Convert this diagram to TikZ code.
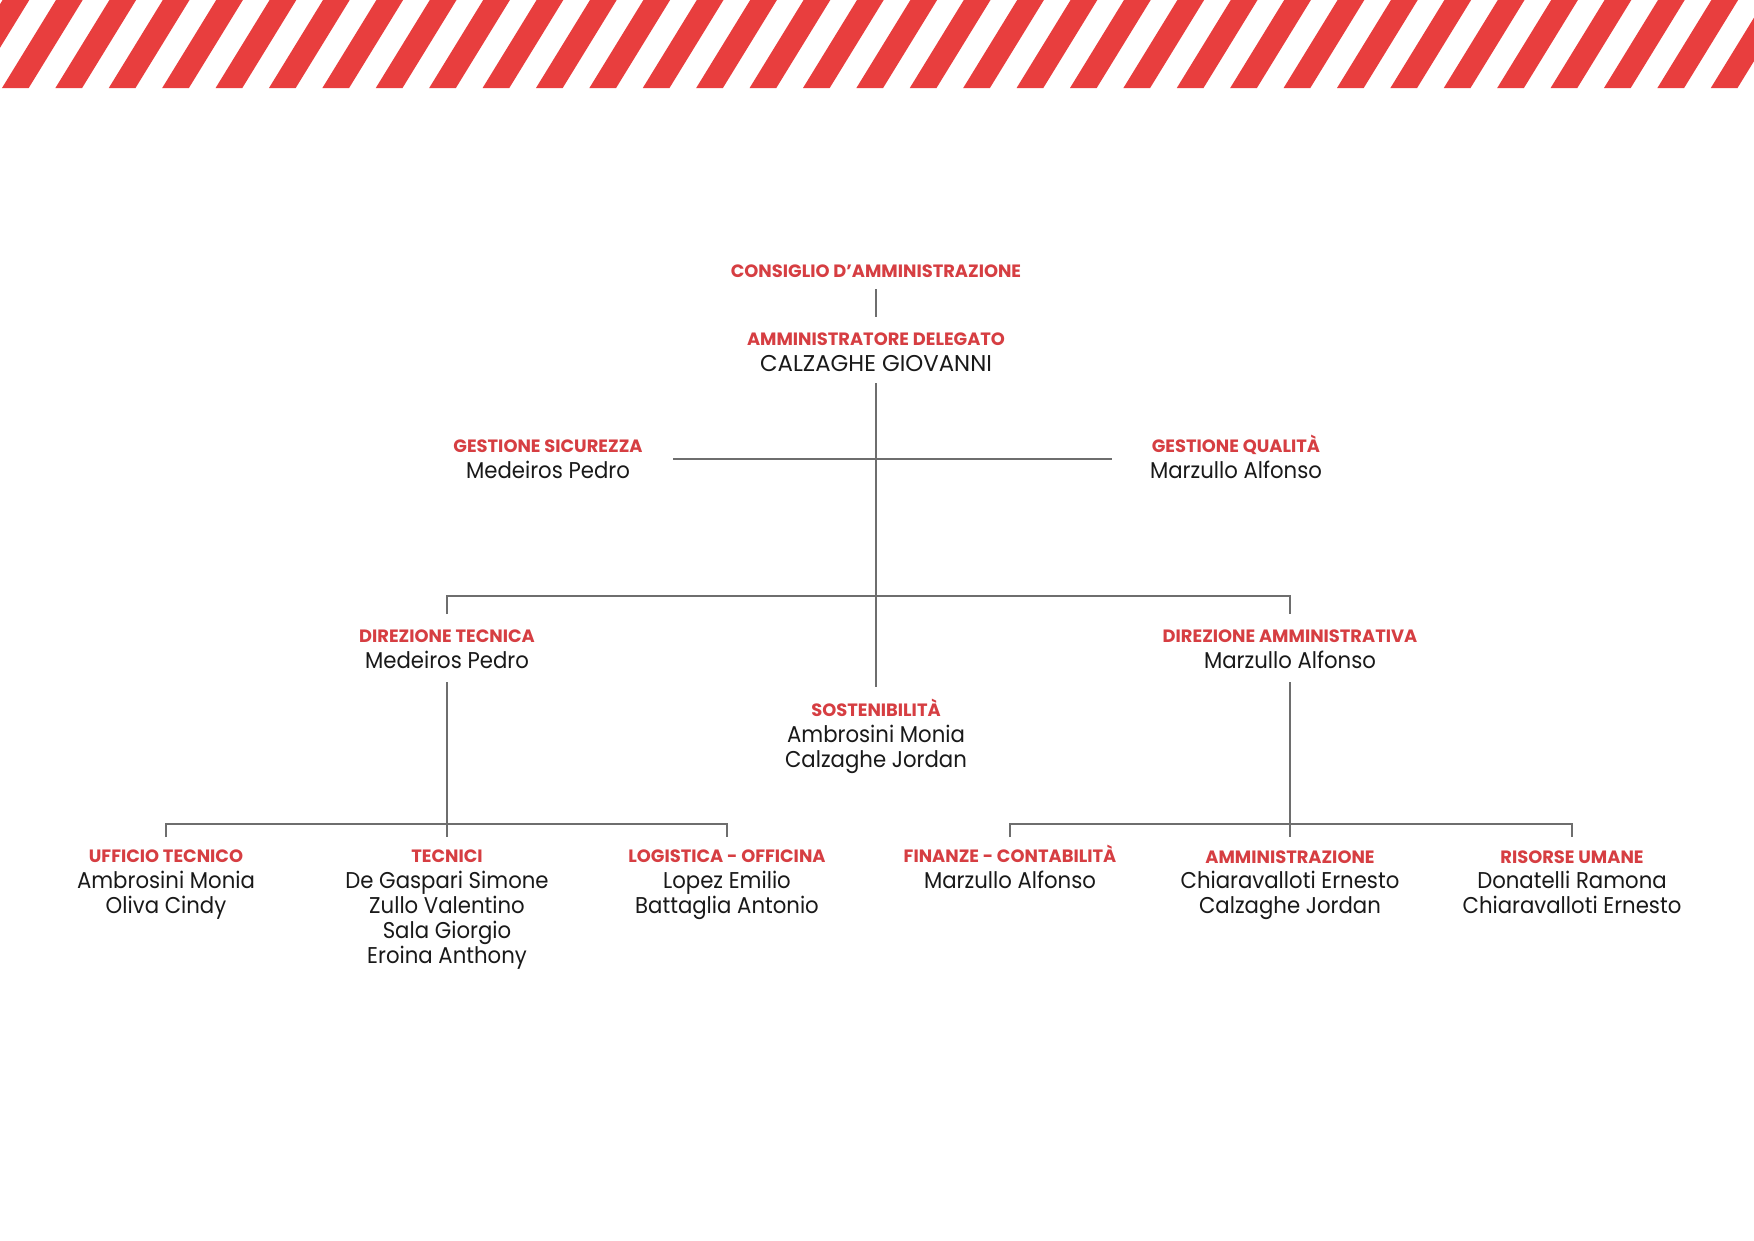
\documentclass[tikz,border=0pt]{standalone}
\usepackage{fontspec}
\setmainfont{Poppins}
\newfontfamily\namefont{Poppins}[FakeStretch=0.93]
\newfontfamily\capsnamefont{Poppins}
\definecolor{stripered}{RGB}{232,62,62}
\definecolor{headred}{RGB}{214,62,66}
\definecolor{linegray}{RGB}{110,110,110}
\definecolor{nametext}{RGB}{25,25,25}
\newcommand\orgunit[5]{%
  \node[head] (#1) at (#2,#3) {#4};
  \foreach \n [count=\i] in {#5}{\node[person] (#1-\i) at (#2,{#3+25.5+(\i-1)*25}) {\n};}
}
\begin{document}
\begin{tikzpicture}[x=0.16933mm,y=-0.16933mm,
  head/.style={anchor=base,inner sep=0,text=headred,font=\fontsize{8.6}{10}\selectfont\bfseries},
  person/.style={anchor=base,inner sep=0,text=nametext,font=\fontsize{11}{13}\selectfont\namefont},
  capsperson/.style={anchor=base,inner sep=0,text=nametext,font=\fontsize{11}{13}\selectfont\capsnamefont},
  link/.style={draw=linegray,line width=0.6pt}]
\useasboundingbox (0,0) rectangle (1754,1240);
\fill[white] (0,0) rectangle (1754,1240);
\begin{scope}
\clip (0,0) rectangle (1754,88);
\foreach \k in {-2,...,33}{
  \fill[stripered] ({2+\k*53.4},88) -- ({2+\k*53.4+26.7},88) -- ({2+\k*53.4+26.7+54},0) -- ({2+\k*53.4+54},0) -- cycle;
}
\end{scope}

\node[head] (cda) at (876,277) {CONSIGLIO D’AMMINISTRAZIONE};
\node[head] (ad) at (876,345.5) {AMMINISTRATORE DELEGATO};
\node[capsperson] (ad-1) at (876,371) {CALZAGHE GIOVANNI};
\orgunit{gs}{548}{452.5}{GESTIONE SICUREZZA}{Medeiros Pedro}
\orgunit{gq}{1236}{452.5}{GESTIONE QUALITÀ}{Marzullo Alfonso}
\orgunit{dt}{447}{642.5}{DIREZIONE TECNICA}{Medeiros Pedro}
\orgunit{da}{1290}{642.5}{DIREZIONE AMMINISTRATIVA}{Marzullo Alfonso}
\orgunit{sost}{876}{716.5}{SOSTENIBILITÀ}{Ambrosini Monia,Calzaghe Jordan}
\orgunit{ut}{166}{862.5}{UFFICIO TECNICO}{Ambrosini Monia,Oliva Cindy}
\orgunit{tec}{447}{862.5}{TECNICI}{De Gaspari Simone,Zullo Valentino,Sala Giorgio,Eroina Anthony}
\orgunit{log}{727}{862.5}{LOGISTICA - OFFICINA}{Lopez Emilio,Battaglia Antonio}
\orgunit{fin}{1010}{862.5}{FINANZE - CONTABILITÀ}{Marzullo Alfonso}
\orgunit{amm}{1290}{863}{AMMINISTRAZIONE}{Chiaravalloti Ernesto,Calzaghe Jordan}
\orgunit{ru}{1572}{863}{RISORSE UMANE}{Donatelli Ramona,Chiaravalloti Ernesto}

\coordinate (cdaS) at (876,289);
\coordinate (adN) at (876,317);
\coordinate (adS) at (876,383);
\coordinate (sostN) at (876,687);
\coordinate (gsE) at (673,459);
\coordinate (gqW) at (1112,459);
\coordinate (dtT) at (447,596);
\coordinate (dtN) at (447,614);
\coordinate (daT) at (1290,596);
\coordinate (daN) at (1290,614);
\coordinate (dtS) at (447,682);
\coordinate (tecN) at (447,837);
\coordinate (utJ) at (166,824);
\coordinate (utN) at (166,837);
\coordinate (logJ) at (727,824);
\coordinate (logN) at (727,837);
\coordinate (daS) at (1290,682);
\coordinate (ammN) at (1290,837);
\coordinate (finJ) at (1010,824);
\coordinate (finN) at (1010,837);
\coordinate (ruJ) at (1572,824);
\coordinate (ruN) at (1572,837);

\draw[link] (cdaS) -- (adN);
\draw[link] (adS) -- (sostN);
\draw[link] (gsE) -- (gqW);
\draw[link] (dtN) -- (dtT) -- (daT) -- (daN);
\draw[link] (dtS) -- (tecN);
\draw[link] (utN) -- (utJ) -- (logJ) -- (logN);
\draw[link] (daS) -- (ammN);
\draw[link] (finN) -- (finJ) -- (ruJ) -- (ruN);
\end{tikzpicture}
\end{document}
